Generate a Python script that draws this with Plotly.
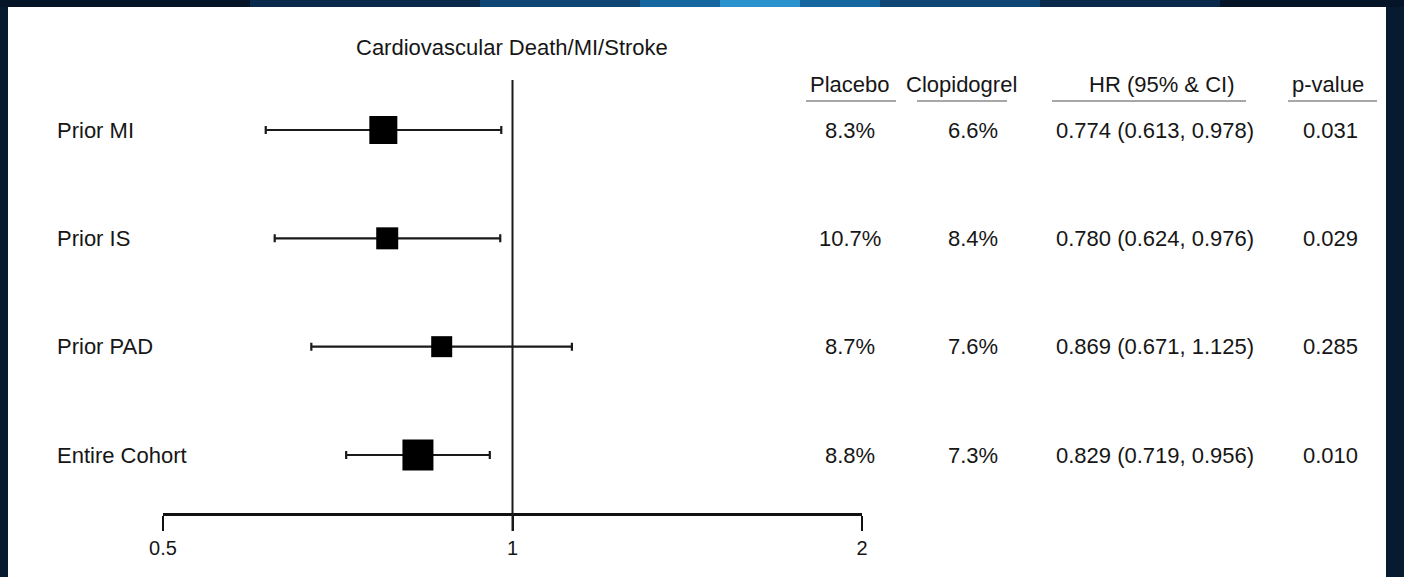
import math
import plotly.graph_objects as go

# ---------------- data ----------------
subgroups = ["Prior MI", "Prior IS", "Prior PAD", "Entire Cohort"]
hr = [0.774, 0.780, 0.869, 0.829]
ci_low = [0.613, 0.624, 0.671, 0.719]
ci_high = [0.978, 0.976, 1.125, 0.956]
placebo = ["8.3%", "10.7%", "8.7%", "8.8%"]
clopidogrel = ["6.6%", "8.4%", "7.6%", "7.3%"]
p_values = ["0.031", "0.029", "0.285", "0.010"]
headers = ["Placebo", "Clopidogrel", "HR (95% & CI)", "p-value"]
tick_vals = [0.5, 1, 2]
tick_text = ["0.5", "1", "2"]
title_text = "Cardiovascular Death/MI/Stroke"

# ---------------- layout helpers (pixels) ----------------
W, H = 1404, 577
FONT = "Liberation Sans, Arial, Helvetica, sans-serif"
TXT = "#161616"
FS = 22

def px(x):
    return x / W

def py(y):
    return 1 - y / H

rows = list(range(len(subgroups)))
marker_sizes = [28, 22, 21, 31]

hr_text = [f"{h:.3f} ({l:.3f}, {u:.3f})" for h, l, u in zip(hr, ci_low, ci_high)]

fig = go.Figure()

fig.add_trace(go.Scatter(
    x=hr, y=rows, mode="markers",
    marker=dict(symbol="square", size=marker_sizes, color="#000000",
                opacity=1, line=dict(width=0)),
    error_x=dict(type="data", symmetric=False,
                 array=[u - h for u, h in zip(ci_high, hr)],
                 arrayminus=[h - l for h, l in zip(hr, ci_low)],
                 color="#1a1a1a", thickness=2.2, width=4),
    hoverinfo="skip", showlegend=False,
))

shapes = []
# white content area inside the dark slide frame
shapes.append(dict(type="rect", xref="paper", yref="paper",
                   x0=px(8), x1=px(1386), y0=py(577), y1=py(7),
                   fillcolor="white", line=dict(width=0), layer="below"))
# top band (approximate gradient)
band = [(0, 250, "#061427"), (250, 480, "#0a2a4c"), (480, 640, "#0f4673"),
        (640, 720, "#1667a0"), (720, 800, "#2a92cc"), (800, 880, "#1667a0"),
        (880, 1040, "#0f4673"), (1040, 1220, "#0a2a4c"), (1220, 1404, "#061427")]
for a, b, c in band:
    shapes.append(dict(type="rect", xref="paper", yref="paper",
                       x0=px(a), x1=px(b), y0=py(7), y1=py(0),
                       fillcolor=c, line=dict(width=0), layer="below"))

# reference line at HR = 1
shapes.append(dict(type="line", xref="x", yref="paper", x0=1, x1=1,
                   y0=py(531), y1=py(80), line=dict(color="#1a1a1a", width=2)))

# header underlines
underlines = [(806, 896), (917, 1007), (1052, 1246), (1288, 1377)]
for a, b in underlines:
    shapes.append(dict(type="line", xref="paper", yref="paper",
                       x0=px(a), x1=px(b), y0=py(101), y1=py(101),
                       line=dict(color="#8a8a8a", width=1.6)))

annotations = []
annotations.append(dict(text=title_text, xref="paper", yref="paper",
                        x=px(512), y=py(48), xanchor="center", yanchor="middle",
                        showarrow=False, font=dict(family=FONT, size=22, color=TXT)))

header_x = [850, 961, 1161, 1328]
for hx, htxt in zip(header_x, headers):
    annotations.append(dict(text=htxt, xref="paper", yref="paper",
                            x=px(hx), y=py(85), xanchor="center", yanchor="middle",
                            showarrow=False, font=dict(family=FONT, size=FS, color=TXT)))

col_x = [850, 973, 1155, 1330]
for r in rows:
    annotations.append(dict(text=subgroups[r], xref="paper", yref="y",
                            x=px(55), y=r, xanchor="left", yanchor="middle",
                            showarrow=False, font=dict(family=FONT, size=FS, color=TXT)))
    for cx, col in zip(col_x, [placebo, clopidogrel, hr_text, p_values]):
        annotations.append(dict(text=col[r], xref="paper", yref="y",
                                x=px(cx), y=r, xanchor="center", yanchor="middle",
                                showarrow=False, font=dict(family=FONT, size=FS, color=TXT)))

# y mapping: row 0 at px 130, row 3 at px 455
row0, step = 130, (455 - 130) / 3
axis_y = 513
y_top = (0 - row0) / step
y_bot = (axis_y - row0) / step

fig.update_layout(
    width=W, height=H, autosize=False,
    margin=dict(l=0, r=0, t=0, b=0, pad=0, autoexpand=False),
    paper_bgcolor="#061a30",
    plot_bgcolor="rgba(0,0,0,0)",
    xaxis=dict(type="log", domain=[px(163), px(862)],
               range=[math.log10(0.5), math.log10(2)], automargin=False,
               showgrid=False, zeroline=False,
               showline=True, linecolor="#111111", linewidth=3,
               ticks="outside", ticklen=15, tickwidth=2.2, tickcolor="#111111",
               tickvals=tick_vals, ticktext=tick_text,
               tickfont=dict(family=FONT, size=20, color=TXT)),
    yaxis=dict(domain=[py(axis_y), 1], range=[y_bot, y_top], automargin=False,
               showgrid=False, zeroline=False, showline=False,
               showticklabels=False, ticks=""),
    shapes=shapes,
    annotations=annotations,
    font=dict(family=FONT),
)

fig.write_html("out.html", config={"displayModeBar": False},
               post_script="document.body.style.margin='0';document.body.style.overflow='hidden';")
